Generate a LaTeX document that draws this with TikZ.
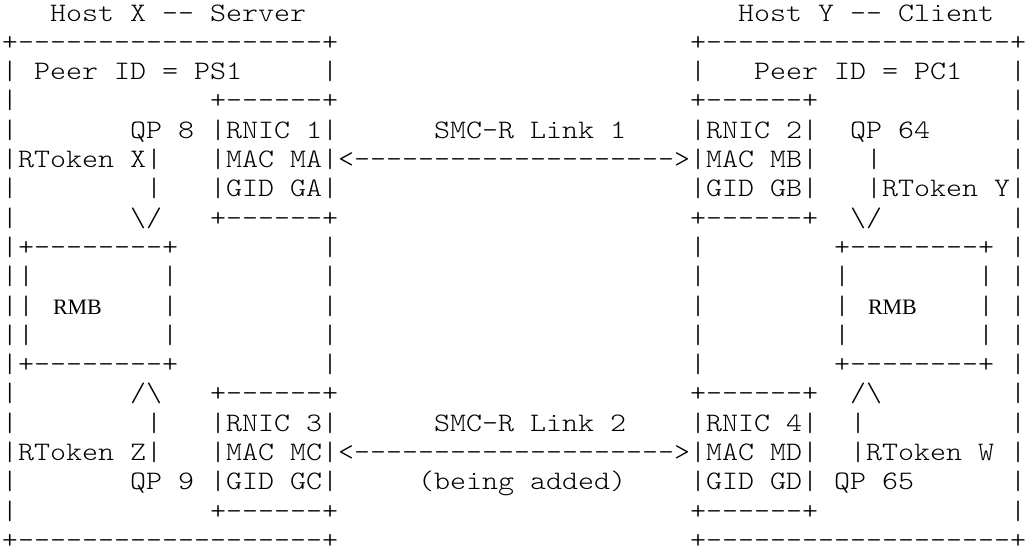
\documentclass[tikz,border=0pt]{standalone}
\usepackage{fontspec}
\newfontfamily\rmbfont{Liberation Serif}
\newcommand\asciimono{\ttfamily\fontseries{l}\fontsize{20pt}{22pt}\selectfont}
\tikzset{
  txt/.style={anchor=base west, inner sep=0pt, outer sep=0pt, font=\asciimono},
  rmb/.style={anchor=base west, inner sep=0pt, outer sep=0pt, font=\rmbfont\fontsize{16.5pt}{18pt}\selectfont},
}
\newcommand\cx[1]{2+16*#1}
\newcommand\ly[1]{21+29.3*(#1-1)}
\newcommand\tx[4]{\node[txt] (#1) at ({\cx{#2}},{\ly{#3}}) {\scalebox{1.1429}[1]{#4}};}
\begin{document}
\begin{tikzpicture}[x=0.75pt,y=-0.75pt]
\useasboundingbox (0,0) rectangle (1030,551);
% line 1
\tx{hostx}{3}{1}{Host X -{}- Server}
\tx{hosty}{46}{1}{Host Y -{}- Client}
% line 2
\tx{xtop}{0}{2}{+-------------------+}
\tx{ytop}{43}{2}{+-------------------+}
% line 3
\tx{xl3}{0}{3}{|}
\tx{peerx}{2}{3}{Peer ID = PS1}
\tx{xr3}{20}{3}{|}
\tx{yl3}{43}{3}{|}
\tx{peery}{47}{3}{Peer ID = PC1}
\tx{yr3}{63}{3}{|}
% line 4
\tx{xl4}{0}{4}{|}
\tx{rnicatop}{13}{4}{+------+}
\tx{rnicbtop}{43}{4}{+------+}
\tx{yr4}{63}{4}{|}
% line 5
\tx{xl5}{0}{5}{|}
\tx{qp8}{8}{5}{QP 8}
\tx{rnic1}{13}{5}{|RNIC 1|}
\tx{link1}{27}{5}{SMC-R Link 1}
\tx{rnic2}{43}{5}{|RNIC 2|}
\tx{qp64}{53}{5}{QP 64}
\tx{yr5}{63}{5}{|}
% line 6
\tx{rtx}{0}{6}{|RToken X|}
\tx{maca}{13}{6}{|MAC MA|}
\tx{linkonearrow}{21}{6}{<-------------------->}
\tx{macb}{43}{6}{|MAC MB|}
\tx{ya6}{54}{6}{|}
\tx{yr6}{63}{6}{|}
% line 7
\tx{xl7}{0}{7}{|}
\tx{xa7}{9}{7}{|}
\tx{gida}{13}{7}{|GID GA|}
\tx{gidb}{43}{7}{|GID GB|}
\tx{rty}{54}{7}{|RToken Y|}
% line 8
\tx{xl8}{0}{8}{|}
\tx{xdown}{8}{8}{\textbackslash/}
\tx{rnicabot}{13}{8}{+------+}
\tx{rnicbbot}{43}{8}{+------+}
\tx{ydown}{53}{8}{\textbackslash/}
\tx{yr8}{63}{8}{|}
% line 9
\tx{xrmbtop}{0}{9}{|+--------+}
\tx{xr9}{20}{9}{|}
\tx{yl9}{43}{9}{|}
\tx{yrmbtop}{52}{9}{+--------+}
\tx{yr9}{63}{9}{|}
% line 10
\tx{xl10}{0}{10}{||}
\tx{xm10}{10}{10}{|}
\tx{xr10}{20}{10}{|}
\tx{yl10}{43}{10}{|}
\tx{ym10}{52}{10}{|}
\tx{yn10}{61}{10}{|}
\tx{yr10}{63}{10}{|}
% line 11
\tx{xl11}{0}{11}{||}
\node[rmb] (rmbx) at (53,{\ly{11}}) {RMB};
\tx{xm11}{10}{11}{|}
\tx{xr11}{20}{11}{|}
\tx{yl11}{43}{11}{|}
\tx{ym11}{52}{11}{|}
\node[rmb] (rmby) at (868,{\ly{11}}) {RMB};
\tx{yn11}{61}{11}{|}
\tx{yr11}{63}{11}{|}
% line 12
\tx{xl12}{0}{12}{||}
\tx{xm12}{10}{12}{|}
\tx{xr12}{20}{12}{|}
\tx{yl12}{43}{12}{|}
\tx{ym12}{52}{12}{|}
\tx{yn12}{61}{12}{|}
\tx{yr12}{63}{12}{|}
% line 13
\tx{xrmbbot}{0}{13}{|+--------+}
\tx{xr13}{20}{13}{|}
\tx{yl13}{43}{13}{|}
\tx{yrmbbot}{52}{13}{+--------+}
\tx{yr13}{63}{13}{|}
% line 14
\tx{xl14}{0}{14}{|}
\tx{xup}{8}{14}{/\textbackslash}
\tx{rnicctop}{13}{14}{+------+}
\tx{rnicdtop}{43}{14}{+------+}
\tx{yup}{53}{14}{/\textbackslash}
\tx{yr14}{63}{14}{|}
% line 15
\tx{xl15}{0}{15}{|}
\tx{xa15}{9}{15}{|}
\tx{rnic3}{13}{15}{|RNIC 3|}
\tx{link2}{27}{15}{SMC-R Link 2}
\tx{rnic4}{43}{15}{|RNIC 4|}
\tx{ya15}{53}{15}{|}
\tx{yr15}{63}{15}{|}
% line 16
\tx{rtz}{0}{16}{|RToken Z|}
\tx{macc}{13}{16}{|MAC MC|}
\tx{linktwoarrow}{21}{16}{<-------------------->}
\tx{macd}{43}{16}{|MAC MD|}
\tx{rtw}{53}{16}{|RToken W}
\tx{yr16}{63}{16}{|}
% line 17
\tx{xl17}{0}{17}{|}
\tx{qp9}{8}{17}{QP 9}
\tx{gidc}{13}{17}{|GID GC|}
\tx{adding}{26}{17}{(being added)}
\tx{gidd}{43}{17}{|GID GD|}
\tx{qp65}{52}{17}{QP 65}
\tx{yr17}{63}{17}{|}
% line 18
\tx{xl18}{0}{18}{|}
\tx{rniccbot}{13}{18}{+------+}
\tx{rnicdbot}{43}{18}{+------+}
\tx{yr18}{63}{18}{|}
% line 19
\tx{xbot}{0}{19}{+-------------------+}
\tx{ybot}{43}{19}{+-------------------+}
\end{tikzpicture}
\end{document}
